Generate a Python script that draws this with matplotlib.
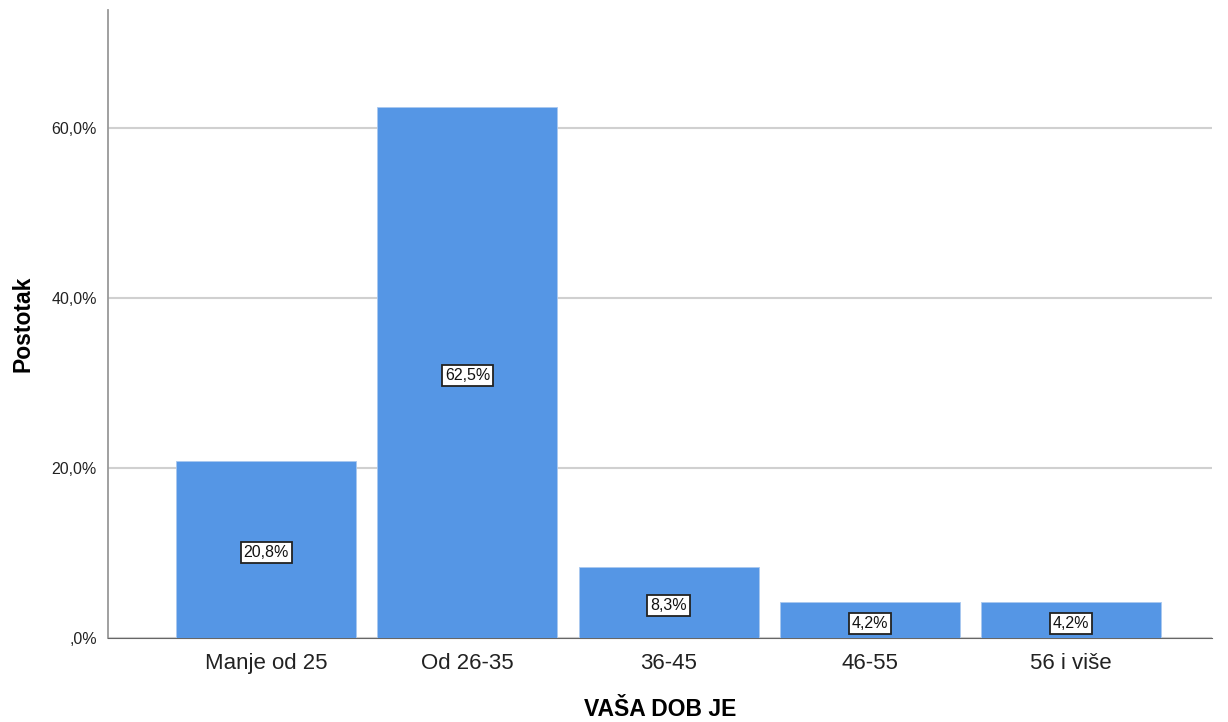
import matplotlib
matplotlib.use('agg')
from matplotlib import pyplot as plt

plt.rcParams['font.family'] = ['Liberation Sans', 'DejaVu Sans']

# podaci
categories = ["Manje od 25", "Od 26-35", "36-45", "46-55", "56 i više"]
percents = [20.8, 62.5, 8.3, 4.2, 4.2]
yticks = [0, 20, 40, 60]
ytick_labels = [",0%", "20,0%", "40,0%", "60,0%"]

fig = plt.figure(figsize=(12.28, 7.22), dpi=100)
ax = fig.add_axes([108/1228, 1 - 638/722, (1212-108)/1228, (638-10)/722])

x = range(len(categories))
bars = ax.bar(x, percents, width=0.895, color='#5596e5', edgecolor='#a9c8ef', linewidth=0.6, zorder=3)

# oznake su malo ispod sredine stupca
for b, v in zip(bars, percents):
    ax.text(b.get_x() + b.get_width()/2, v/2, "{:.1f}%".format(v).replace('.', ','),
            ha='center', va='center', fontsize=11.5, color='#111111', zorder=4,
            transform=ax.transData + matplotlib.transforms.ScaledTranslation(0, -3/100, fig.dpi_scale_trans),
            bbox=dict(boxstyle='square,pad=0.18', fc='white', ec='#222222', lw=1.3))

ax.set_xlim(-0.786, 4.70)
ax.set_ylim(0, 73.9)
ax.set_yticks(yticks)
ax.set_yticklabels(ytick_labels, fontsize=11.5, color='#222222')
ax.set_xticks(list(x))
ax.set_xticklabels(categories, fontsize=16, color='#222222')
ax.tick_params(axis='both', length=0)
ax.tick_params(axis='y', pad=8)
ax.tick_params(axis='x', pad=11)
ax.grid(axis='y', color='#d0d0d0', linewidth=1.5, zorder=0)

for s in ['top', 'right']:
    ax.spines[s].set_visible(False)
ax.spines['left'].set_color('#999999')
ax.spines['left'].set_linewidth(1.3)
ax.spines['bottom'].set_color('#666666')

ax.set_ylabel("Postotak", fontsize=16.5, fontweight='bold', va='center')
ax.yaxis.set_label_coords((23-108)/1104, 0.5)
ax.set_xlabel("VAŠA DOB JE", fontsize=16.5, fontweight='bold', va='center')
ax.xaxis.set_label_coords(0.5, (638-709)/628)

plt.savefig("out.png")
